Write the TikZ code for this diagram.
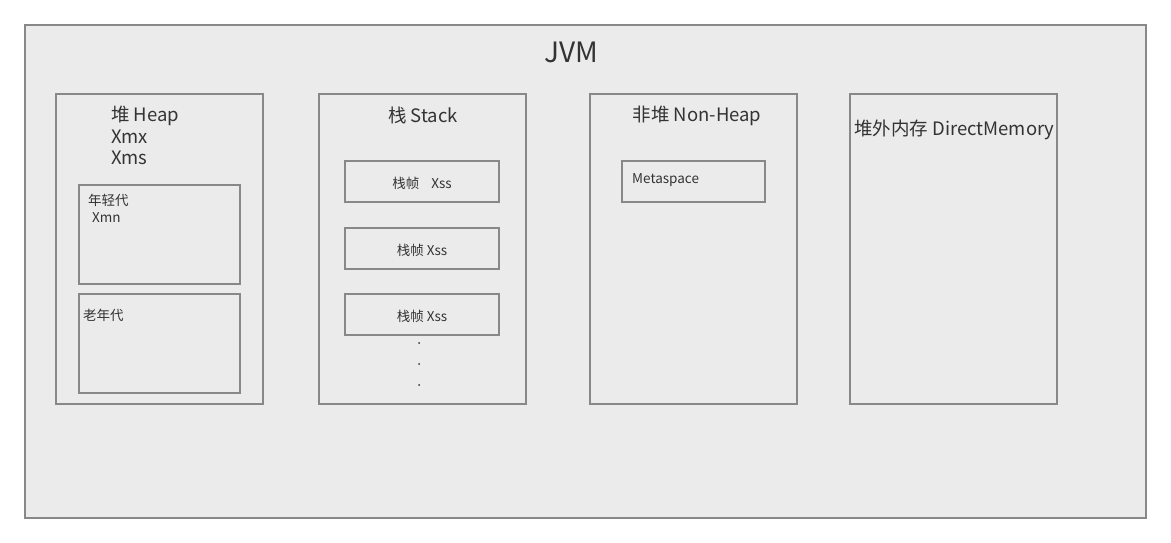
\documentclass[tikz,border=0pt]{standalone}
\usepackage{fontspec}
\setmainfont{Noto Sans CJK SC}
\usetikzlibrary{positioning}
\definecolor{jvmfill}{HTML}{EBEBEB}
\definecolor{jvmline}{HTML}{888888}
\definecolor{jvmtext}{HTML}{333333}
\tikzset{
  area/.style={draw=jvmline,line width=2pt,fill=jvmfill,anchor=north west,inner sep=0pt,outer sep=0pt},
  region/.style={area,minimum width=207pt,minimum height=310pt},
  gen/.style={area,minimum width=161pt,minimum height=99pt},
  frame/.style={area,minimum width=154pt,minimum height=41pt},
  big label/.style={text=jvmtext,font=\fontsize{18.5}{21.5}\selectfont,inner sep=0pt},
  small label/.style={text=jvmtext,font=\fontsize{13.5}{16.5}\selectfont,inner sep=0pt},
}

\begin{document}
\begin{tikzpicture}[x=1pt,y=-1pt]
\fill[white] (0,0) rectangle (1171,543);
\useasboundingbox (0,0) rectangle (1171,543);
% outer JVM area
\node[area,line width=1.5pt,minimum width=1121pt,minimum height=493pt] (jvm) at (25,25) {};
\node[text=jvmtext,font=\fontsize{28}{32}\selectfont,inner sep=0pt] (jvmtitle) at (571,52) {JVM};
% heap
\node[region] (heap) at (56,94) {};
\node[big label,align=left,anchor=north west] (heaplabel) at (111,106) {堆 Heap\\Xmx\\Xms};
\node[gen] (young) at (79,185) {};
\node[small label,align=left,anchor=north west] (younglabel) at (88,194) {年轻代\\\hspace{4pt}Xmn};
\node[gen] (old) at (79,294) {};
\node[small label,anchor=west] (oldlabel) at (83,315) {老年代};
% stack
\node[region] (stack) at (319,94) {};
\node[big label] (stacklabel) at (423,115) {栈 Stack};
\node[frame] (frame1) at (345,161) {};
\node[frame] (frame2) at (345,228) {};
\node[frame] (frame3) at (345,294) {};
\node[small label,yshift=-1.5pt] at (frame1.center) {栈帧\hspace{12pt}Xss};
\node[small label,yshift=-1.5pt] at (frame2.center) {栈帧 Xss};
\node[small label,yshift=-1.5pt] at (frame3.center) {栈帧 Xss};
\foreach \y in {343,364,385}
  \fill[jvmtext] (419,\y) circle[radius=1pt];
% non-heap
\node[region] (nonheap) at (590,94) {};
\node[big label] (nonheaplabel) at (697,116) {非堆 Non-Heap};
\node[area,minimum width=143pt,minimum height=41pt] (meta) at (622,161) {};
\node[small label,anchor=west] (metalabel) at (632,180) {Metaspace};
% direct memory
\node[region] (direct) at (850,94) {};
\node[big label,anchor=west] (directlabel) at (854,130) {堆外内存 DirectMemory};
\end{tikzpicture}
\end{document}
